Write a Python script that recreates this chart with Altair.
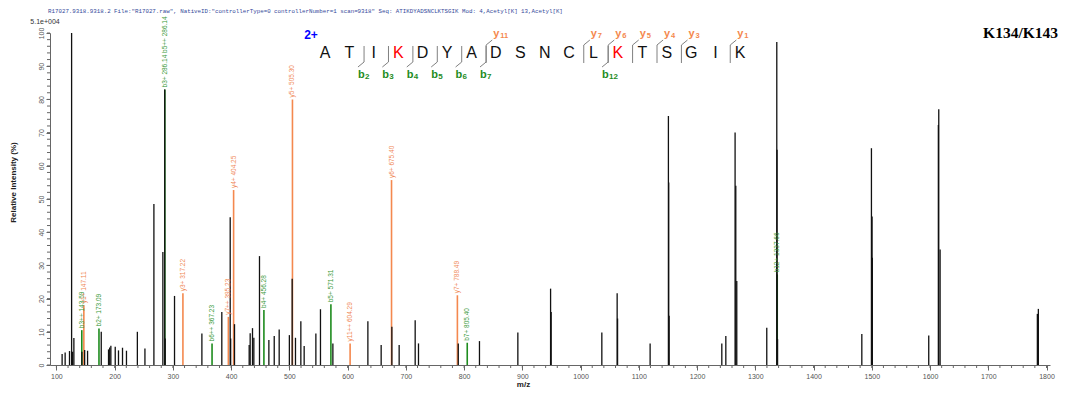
import altair as alt
import pandas as pd

# ---------------- data ----------------
header_text = ('R17027.9318.9318.2 File:"R17027.raw", NativeID:"controllerType=0 controllerNumber=1 scan=9318"'
               '   Seq: ATIKDYADSNCLKTSGIK   Mod: 4,Acetyl[K] 13,Acetyl[K]')
scale_text = "5.1e+004"
site_text = "K134/K143"
charge_text = "2+"

black_mz = [109.8, 115.0, 122.5, 126.1, 127.7, 130.0, 143.8, 148.5, 153.5, 177.0,
            189.5, 191.5, 193.5, 201.0, 206.6, 213.5, 220.3, 239.0, 252.0, 267.4,
            282.8, 286.0, 286.8, 302.8, 349.8, 384.0, 398.4, 399.2, 405.8, 431.0,
            432.7, 436.7, 439.0, 448.7, 464.8, 474.0, 482.5, 500.0, 504.8, 510.5,
            519.7, 525.4, 545.5, 553.4, 574.7, 634.8, 657.6, 676.0, 688.5, 716.0,
            721.7, 790.0, 826.4, 892.3, 948.5, 949.5, 1036.5, 1062.8, 1063.5, 1119.4,
            1150.8, 1151.3, 1152.0, 1242.5, 1249.4, 1265.3, 1266.5, 1268.2, 1319.7, 1336.9,
            1337.3, 1338.2, 1482.9, 1499.4, 1500.5, 1501.0, 1597.8, 1614.3, 1615.0, 1617.3,
            1784.3, 1786.0]
black_int = [3.3, 3.8, 4.2, 100.0, 4.0, 8.1, 4.0, 4.5, 4.3, 10.0,
             4.7, 5.3, 5.8, 5.5, 4.4, 5.2, 4.3, 10.0, 5.0, 48.5,
             34.0, 83.0, 8.0, 20.8, 9.5, 16.0, 44.5, 8.0, 12.3, 6.0,
             9.6, 11.1, 8.2, 32.8, 7.5, 8.7, 10.7, 9.0, 26.0, 8.2,
             13.2, 5.7, 9.5, 16.8, 6.5, 13.2, 6.0, 11.5, 6.0, 13.5,
             6.5, 6.5, 7.2, 9.8, 23.0, 16.0, 9.8, 21.6, 14.0, 6.5,
             75.0, 55.0, 14.8, 6.5, 8.7, 70.0, 54.0, 25.3, 11.2, 97.3,
             64.8, 7.8, 9.3, 65.3, 44.7, 32.3, 8.9, 72.3, 77.0, 34.8,
             15.4, 16.9]

ion_names = ["b3++ 143.59", "y1+ 147.11", "b2+ 173.09", "b3+ 286.14  b5++ 286.14",
             "y3+ 317.22", "b6++ 367.23", "y7++ 395.23", "y4+ 404.25", "b4+ 456.28",
             "y5+ 505.30", "b5+ 571.31", "y11++ 604.29", "y6+ 675.40", "y7+ 788.49",
             "b7+ 805.40", "b12+ 1337.66"]
ion_mz = [143.59, 147.11, 173.09, 286.14, 317.22, 367.23, 395.23, 404.25, 456.28,
          505.30, 571.31, 604.29, 675.40, 788.49, 805.40, 1337.66]
ion_int = [10.5, 18.0, 11.0, 83.0, 21.6, 6.5, 14.5, 52.7, 16.6,
           80.0, 18.3, 6.5, 55.7, 21.0, 6.7, 27.3]
ion_series = ["b", "y", "b", "b", "y", "b", "y", "y", "b",
              "y", "b", "y", "y", "y", "b", "b"]

peptide = list("ATIKDYADSNCLKTSGIK")
modified_idx = [3, 12]
b_ions = [2, 3, 4, 5, 6, 7, 12]
y_ions = [11, 7, 6, 5, 4, 3, 1]

x_major = list(range(100, 1900, 100))
x_minor = list(range(100, 1820, 20))
y_major = list(range(0, 101, 10))
y_minor = list(range(0, 101, 2))

# ---------------- styling ----------------
W, H = 1000, 332
GREEN = "#1E8C1E"
ORANGE = "#F4884E"
GREEN_TXT = "#3A9A3A"
ORANGE_TXT = "#F08A58"
AX = "#666666"
FONT = "Liberation Sans"

xs = alt.Scale(domain=[89, 1806], nice=False, zero=False)
ys = alt.Scale(domain=[0, 100], nice=False)

black_df = pd.DataFrame({"mz": black_mz, "inten": black_int})
ion_df = pd.DataFrame({"name": ion_names, "mz": ion_mz, "inten": ion_int, "series": ion_series})

x_axis = alt.Axis(values=x_major, format="d", title="m/z", titleX=473, titleY=19,
                  titleBaseline="middle")
y_axis = alt.Axis(values=y_major, format="d", labelAngle=270, labelAlign="center",
                  labelBaseline="bottom", title="Relative  Intensity (%)", titleAngle=270,
                  titleX=-37, titleY=149, titleAlign="center", titleBaseline="middle")


def X(field):
    return alt.X(field, scale=xs, axis=x_axis)


def Y(field):
    return alt.Y(field, scale=ys, axis=y_axis)


def ion_layers(series, line_col, txt_col):
    base = alt.Chart(ion_df).transform_filter(alt.datum.series == series)
    rules = base.transform_calculate(base="0").mark_rule(strokeWidth=1.6, color=line_col).encode(
        x=X("mz:Q"), y=Y("inten:Q"), y2=alt.Y2("base:Q"))
    labels = base.transform_calculate(ly="datum.inten + 0.6").mark_text(
        angle=270, align="left", baseline="middle", fontSize=6.5, font=FONT, color=txt_col).encode(
        x=X("mz:Q"), y=Y("ly:Q"), text="name:N")
    return rules, labels


b_rules, b_labels = ion_layers("b", GREEN, GREEN_TXT)
y_rules, y_labels = ion_layers("y", ORANGE, ORANGE_TXT)

black_rules = alt.Chart(black_df).transform_calculate(base="0").mark_rule(
    strokeWidth=1.3, color="#111111").encode(
    x=X("mz:Q"), y=Y("inten:Q"), y2=alt.Y2("base:Q"))
xminor = alt.Chart(pd.DataFrame({"v": x_minor})).mark_rule(color=AX, strokeWidth=1).encode(
    x=X("v:Q"), y=alt.value(H), y2=alt.value(H + 3))
yminor = alt.Chart(pd.DataFrame({"v": y_minor})).mark_rule(color=AX, strokeWidth=1).encode(
    y=Y("v:Q"), x=alt.value(0), x2=alt.value(-3))

peaks = alt.layer(xminor, yminor, b_rules, y_rules, black_rules, b_labels, y_labels)

# ---------------- peptide annotation ----------------
ps = alt.Scale(domain=[0, 17], range=[275, 690], nice=False, zero=False)
pep_df = pd.DataFrame({"idx": list(range(len(peptide))), "aa": peptide,
                       "kind": ["mod" if i in modified_idx else "plain" for i in range(len(peptide))]})
letters_plain = alt.Chart(pep_df).transform_filter(alt.datum.kind == "plain").mark_text(
    fontSize=16, font=FONT, baseline="middle", align="center", color="#111111").encode(
    x=alt.X("idx:Q", scale=ps, axis=None), y=alt.value(20), text="aa:N")
letters_mod = alt.Chart(pep_df).transform_filter(alt.datum.kind == "mod").mark_text(
    fontSize=16, font=FONT, baseline="middle", align="center", color="#FF0000").encode(
    x=alt.X("idx:Q", scale=ps, axis=None), y=alt.value(20), text="aa:N")

b_df = pd.DataFrame({"n": b_ions})
b_df["pos"] = b_df["n"] - 0.4
b_df["end"] = b_df["pos"] - 0.25
b_df["num"] = b_df["n"].astype(str)
y_df = pd.DataFrame({"n": y_ions})
y_df["pos"] = 17.6 - y_df["n"]
y_df["end"] = y_df["pos"] + 0.25
y_df["num"] = y_df["n"].astype(str)

mark_col = "#808080"
b_vert = alt.Chart(b_df).mark_rule(color=mark_col, strokeWidth=1).encode(
    x=alt.X("pos:Q", scale=ps, axis=None), y=alt.value(13), y2=alt.value(29))
b_diag = alt.Chart(b_df).mark_rule(color=mark_col, strokeWidth=1).encode(
    x=alt.X("pos:Q", scale=ps, axis=None), x2="end:Q", y=alt.value(29), y2=alt.value(34))
y_vert = alt.Chart(y_df).mark_rule(color=mark_col, strokeWidth=1).encode(
    x=alt.X("pos:Q", scale=ps, axis=None), y=alt.value(30), y2=alt.value(12))
y_diag = alt.Chart(y_df).mark_rule(color=mark_col, strokeWidth=1).encode(
    x=alt.X("pos:Q", scale=ps, axis=None), x2="end:Q", y=alt.value(12), y2=alt.value(7))
b_lab = alt.Chart(b_df).mark_text(text="b", fontSize=11, fontWeight="bold", color=GREEN, font=FONT,
                                  align="left", baseline="middle").encode(
    x=alt.X("end:Q", scale=ps, axis=None), y=alt.value(42))
b_num = alt.Chart(b_df).mark_text(fontSize=8, fontWeight="bold", color=GREEN, font=FONT,
                                  align="left", baseline="middle", dx=7).encode(
    x=alt.X("end:Q", scale=ps, axis=None), y=alt.value(44), text="num:N")
y_lab = alt.Chart(y_df).mark_text(text="y", fontSize=11, fontWeight="bold", color=ORANGE, font=FONT,
                                  align="left", baseline="middle", dx=1).encode(
    x=alt.X("end:Q", scale=ps, axis=None), y=alt.value(1))
y_num = alt.Chart(y_df).mark_text(fontSize=7.5, fontWeight="bold", color=ORANGE, font=FONT,
                                  align="left", baseline="middle", dx=8).encode(
    x=alt.X("end:Q", scale=ps, axis=None), y=alt.value(3), text="num:N")

# ---------------- free text ----------------
one = pd.DataFrame({"k": [0]})
header = alt.Chart(one).mark_text(text=header_text, font="Liberation Mono", fontSize=5.8,
                                  color="#34499A", align="left", baseline="top").encode(
    x=alt.value(-2), y=alt.value(-25))
scale_lbl = alt.Chart(one).mark_text(text=scale_text, font=FONT, fontSize=7, color="#333",
                                     align="center", baseline="middle").encode(
    x=alt.value(-5), y=alt.value(-11))
site_lbl = alt.Chart(one).mark_text(text=site_text, font="Liberation Serif", fontSize=15.5,
                                    fontWeight="bold", color="#000", align="right", baseline="middle").encode(
    x=alt.value(1008), y=alt.value(0))
charge_lbl = alt.Chart(one).mark_text(text=charge_text, font=FONT, fontSize=12, fontWeight="bold",
                                      color="#0000FF", align="center", baseline="middle").encode(
    x=alt.value(261), y=alt.value(2))

pep = alt.layer(b_vert, b_diag, y_vert, y_diag, letters_plain, letters_mod, b_lab, b_num, y_lab, y_num,
                header, scale_lbl, site_lbl, charge_lbl)

chart = alt.layer(peaks, pep).resolve_scale(x="independent").properties(
    width=W, height=H,
    padding={"left": 42, "top": 25, "right": 10, "bottom": 23},
    autosize=alt.AutoSizeParams(type="none"),
    background="white",
).configure_view(stroke=None).configure_axis(
    labelFontSize=7, labelColor="#555", labelFont=FONT, tickSize=5, tickColor=AX,
    domainColor=AX, grid=False, labelPadding=2, labelOverlap=False, labelFlush=False,
    titleFontSize=8, titleFont=FONT, titleFontWeight="bold", titleColor="#222",
).configure_axisY(tickSize=4)

chart.save("out.html", embed_options={"renderer": "svg", "actions": False})
